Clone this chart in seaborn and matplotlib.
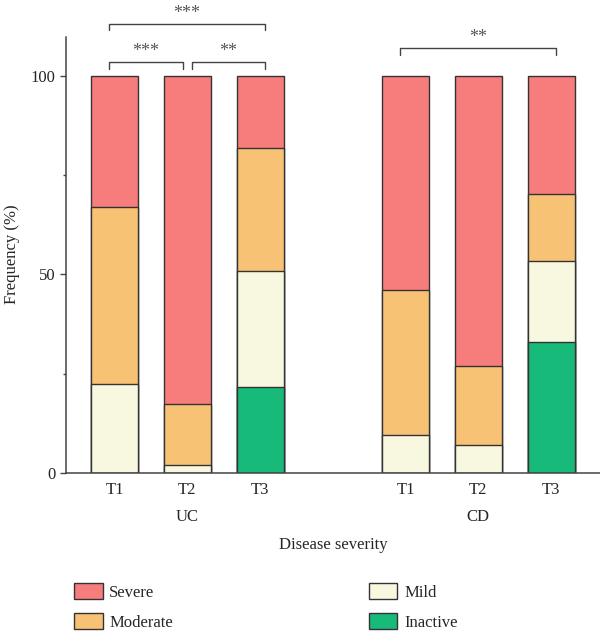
import numpy as np
import pandas as pd
import seaborn as sns
import matplotlib.pyplot as plt
from matplotlib.patches import Patch
from matplotlib.ticker import FixedLocator
import matplotlib.transforms as mtransforms

sns.set_style("ticks")
plt.rcParams['font.family'] = ['Liberation Serif', 'DejaVu Serif']
plt.rcParams['font.size'] = 12

# data (percent of patients per severity class)
groups = ['UC', 'UC', 'UC', 'CD', 'CD', 'CD']
timepoints = ['T1', 'T2', 'T3', 'T1', 'T2', 'T3']
inactive = [0, 0, 21.7, 0, 0, 33.0]
mild = [22.4, 1.9, 29.1, 9.5, 6.9, 20.5]
moderate = [44.5, 15.4, 31.0, 36.6, 20.0, 16.9]
severe = [33.1, 82.7, 18.2, 53.9, 73.1, 29.6]

severity_names = ['Severe', 'Moderate', 'Mild', 'Inactive']
colors = {'Severe': '#F77C7C', 'Moderate': '#F8C274',
          'Mild': '#F8F8E1', 'Inactive': '#17BA78'}

# significance: (first bar, second bar, stars, height)
comparisons = [('UC T1', 'UC T2', '***', 103.5),
               ('UC T2', 'UC T3', '**', 103.5),
               ('UC T1', 'UC T3', '***', 113.3),
               ('CD T1', 'CD T3', '**', 107.0)]

df = pd.DataFrame({'group': groups, 'time': timepoints,
                   'Inactive': inactive, 'Mild': mild,
                   'Moderate': moderate, 'Severe': severe})
df['slot'] = df['group'] + ' ' + df['time']
# stacked heights (cumulative from the bottom)
df['cum_Inactive'] = df['Inactive']
df['cum_Mild'] = df['cum_Inactive'] + df['Mild']
df['cum_Moderate'] = df['cum_Mild'] + df['Moderate']
df['cum_Severe'] = df['cum_Moderate'] + df['Severe']

order = list(df.loc[df.group == 'UC', 'slot']) + [' '] + list(df.loc[df.group == 'CD', 'slot'])

fig = plt.figure(figsize=(6, 6.33), dpi=100)
ax = fig.add_axes([0.1095, 0.2532, 0.8905, 0.689])

for name in severity_names:
    sns.barplot(data=df, x='slot', y='cum_' + name, order=order, color=colors[name],
                edgecolor='#333333', linewidth=1.0, width=0.646, saturation=1,
                errorbar=None, ax=ax)

ax.set_ylim(0, 110)
ax.set_xlim(-0.672, 6.672)
ax.yaxis.set_major_locator(FixedLocator([0, 50, 100]))
ax.yaxis.set_minor_locator(FixedLocator([25, 75]))
ax.tick_params(axis='y', which='major', length=4.5, width=1.0, color='#444444', labelsize=12, pad=3)
ax.tick_params(axis='y', which='minor', length=2.5, width=1.0, color='#444444')
ax.tick_params(axis='x', length=0, labelsize=12, pad=7)
ax.set_xticks(range(len(order)))
ax.set_xticklabels([s.split(' ')[1] if s.strip() else '' for s in order])
ax.set_xlabel('')
ax.set_ylabel('')
sns.despine(ax=ax)
for side in ['left', 'bottom']:
    ax.spines[side].set_color('#444444')
    ax.spines[side].set_linewidth(1.1)

# group labels under the tick labels
trans = mtransforms.blended_transform_factory(ax.transData, fig.transFigure)
for g in ['UC', 'CD']:
    idx = [order.index(s) for s in order if s.startswith(g)]
    ax.text(np.mean(idx), 1 - 517 / 633, g, transform=trans, ha='center', va='center', fontsize=12)

fig.text(0.555, 1 - 545 / 633, 'Disease severity', ha='center', va='center', fontsize=12)
fig.text(0.0195, 0.598, 'Frequency (%)', rotation=90, ha='center', va='center', fontsize=12)

# significance brackets
starts = {(a, h) for a, b, s, h in comparisons}
ends = {(b, h) for a, b, s, h in comparisons}
for a, b, stars, h in comparisons:
    x1 = order.index(a) + (0.06 if (a, h) in ends else -0.08)
    x2 = order.index(b) + (-0.06 if (b, h) in starts else 0.07)
    ax.plot([x1, x1, x2, x2], [h - 1.6, h, h, h - 1.6], color='#444444', lw=1.0, clip_on=False)
    ax.text((x1 + x2) / 2, h + 0.5, stars, ha='center', va='bottom', fontsize=13,
            color='#555555', clip_on=False)

# legend in two separate columns
handles = [Patch(facecolor=colors[n], edgecolor='#333333', linewidth=1.0, label=n) for n in severity_names]
leg_kw = dict(frameon=False, borderpad=0, handlelength=1.7, handleheight=1.05,
              handletextpad=0.4, labelspacing=0.75, fontsize=12, loc='upper left')
fig.legend(handles=handles[:2], bbox_to_anchor=(66 / 600, 1 - 575 / 633), **leg_kw)
fig.legend(handles=handles[2:], bbox_to_anchor=(360.7 / 600, 1 - 575 / 633), **leg_kw)

plt.savefig('out.png', dpi=100)
